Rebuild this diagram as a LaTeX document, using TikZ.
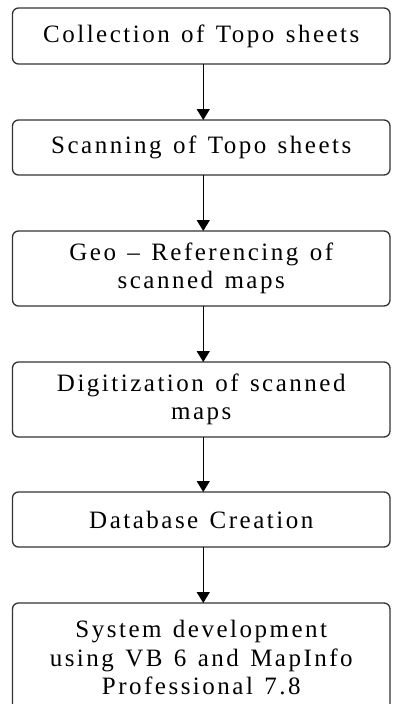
\documentclass[tikz,border=0pt]{standalone}
\usepackage{fontspec}
\setmainfont{Liberation Serif}[LetterSpace=10,WordSpace=1.3]
\usetikzlibrary{arrows.meta}
\begin{document}
\begin{tikzpicture}[x=1pt,y=-1pt,
  stepbox/.style={draw=black!80, line width=1.3pt, rounded corners=6pt,
    minimum width=377.5pt, inner sep=0pt, outer sep=0pt, align=center,
    font=\fontsize{25}{28.5}\selectfont},
  flow/.style={line width=1.5pt, -{Triangle[width=13pt,length=11pt]}}]
\useasboundingbox (0,0) rectangle (392,704);
\node[stepbox, minimum height=56pt] (b1) at (201.25,36) {Collection of Topo sheets};
\node[stepbox, minimum height=55pt] (b2) at (201.25,147.5) {Scanning of Topo sheets};
\node[stepbox, minimum height=75pt] (b3) at (201.25,268.5) {Geo – Referencing of\\scanned maps};
\node[stepbox, minimum height=75pt] (b4) at (201.25,399.5) {Digitization of scanned\\maps};
\node[stepbox, minimum height=55pt] (b5) at (201.25,519.5) {Database Creation};
\node[stepbox, minimum height=109pt] (b6) at (201.25,657.5) {System development\\using VB 6 and MapInfo\\Professional 7.8};
\draw[flow] ([xshift=2pt]b1.south) -- ([xshift=2pt]b2.north);
\draw[flow] ([xshift=2pt]b2.south) -- ([xshift=2pt]b3.north);
\draw[flow] ([xshift=2pt]b3.south) -- ([xshift=2pt]b4.north);
\draw[flow] ([xshift=2pt]b4.south) -- ([xshift=2pt]b5.north);
\draw[flow] ([xshift=2pt]b5.south) -- ([xshift=2pt]b6.north);
\end{tikzpicture}
\end{document}
